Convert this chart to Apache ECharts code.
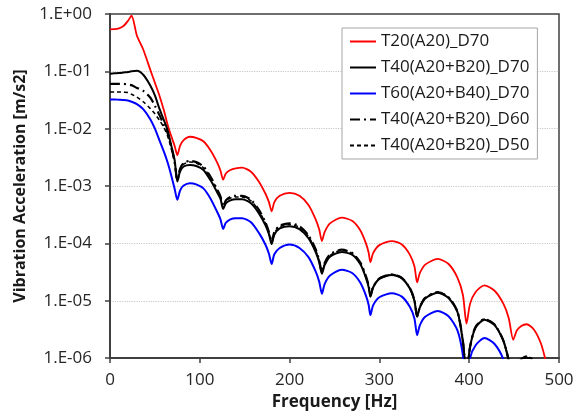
<!DOCTYPE html>
<html>
<head>
<meta charset="utf-8">
<script src="https://cdn.jsdelivr.net/npm/echarts@6/dist/echarts.min.js"></script>
<style>
html,body{margin:0;padding:0;background:#fff;}
#chart{width:588px;height:416px;}
</style>
</head>
<body>
<div id="chart"></div>
<script>
// Frequency grid [Hz]
const freq = [0,5,10,15,20,24,
  30,37,45,50,55,60,64,68,72,
  75,
  78,82,89,96,104,112,119,123,126,
  129,134,140,147,157,166,173,177,180,
  183,189,200,211,221,229,233,236,
  239,245,258,270,279,285,288,290,
  293,300,314,325,334,339,342,
  345,351,365,377,387,393,397,
  401,407,417,428,438,444,449,
  453,458,464,472,480,486];

const seriesNames = ['T20(A20)_D70','T40(A20+B20)_D70','T60(A20+B40)_D70','T40(A20+B20)_D60','T40(A20+B20)_D50'];

// Vibration acceleration [m/s2]
const t20D70 = [0.54,0.543,0.562,0.617,0.759,0.933,
  0.417,0.24,0.105,0.0631,0.038,0.0209,0.012,7.59e-3,5.01e-3,
  3.47e-3,
  5.01e-3,6.31e-3,7.24e-3,6.92e-3,6.03e-3,4.17e-3,2.63e-3,1.86e-3,1.29e-3,
  1.66e-3,1.91e-3,2.04e-3,2.09e-3,1.78e-3,1.18e-3,7.41e-4,5.25e-4,3.63e-4,
  5.25e-4,6.76e-4,7.59e-4,6.76e-4,4.68e-4,2.63e-4,1.74e-4,1.10e-4,
  1.58e-4,2.24e-4,2.82e-4,2.45e-4,1.66e-4,1.0e-4,6.92e-5,4.68e-5,
  6.76e-5,9.33e-5,1.10e-4,9.55e-5,6.31e-5,3.98e-5,2.09e-5,
  3.02e-5,4.27e-5,5.37e-5,4.37e-5,2.51e-5,1.26e-5,3.98e-6,
  8.91e-6,1.41e-5,1.86e-5,1.51e-5,8.91e-6,5.01e-6,2.09e-6,
  3.02e-6,3.63e-6,3.89e-6,3.16e-6,1.78e-6,7.94e-7];

const t40D70 = [9.12e-2,9.23e-2,9.33e-2,9.55e-2,9.77e-2,1.0e-1,
  0.102,8.71e-2,5.62e-2,3.80e-2,2.24e-2,1.41e-2,9.55e-3,5.25e-3,2.82e-3,
  1.20e-3,
  1.78e-3,2.19e-3,2.34e-3,2.24e-3,1.91e-3,1.26e-3,7.94e-4,6.03e-4,3.98e-4,
  5.01e-4,5.62e-4,5.89e-4,5.89e-4,5.01e-4,3.31e-4,2.09e-4,1.45e-4,9.77e-5,
  1.41e-4,1.82e-4,2.0e-4,1.78e-4,1.23e-4,7.08e-5,4.68e-5,2.95e-5,
  4.17e-5,5.89e-5,7.08e-5,6.31e-5,4.27e-5,2.51e-5,1.74e-5,1.18e-5,
  1.70e-5,2.40e-5,2.82e-5,2.45e-5,1.62e-5,1.0e-5,5.25e-6,
  7.59e-6,1.10e-5,1.38e-5,1.12e-5,6.31e-6,1.91e-6,5.01e-7,
  1.58e-6,3.39e-6,4.68e-6,3.80e-6,2.0e-6,8.91e-7,3.16e-7,
  5.01e-7,8.32e-7,1.02e-6,7.94e-7,3.98e-7,1.58e-7];

const t60D70 = [3.24e-2,3.24e-2,3.20e-2,3.16e-2,3.09e-2,2.95e-2,
  2.69e-2,2.19e-2,1.45e-2,1.0e-2,6.31e-3,3.98e-3,2.63e-3,1.58e-3,8.91e-4,
  5.75e-4,
  8.32e-4,1.02e-3,1.12e-3,1.07e-3,9.12e-4,6.03e-4,3.63e-4,2.63e-4,1.78e-4,
  2.29e-4,2.63e-4,2.75e-4,2.75e-4,2.34e-4,1.51e-4,9.55e-5,6.61e-5,4.37e-5,
  6.46e-5,8.32e-5,9.55e-5,8.32e-5,5.75e-5,3.24e-5,2.14e-5,1.32e-5,
  1.95e-5,2.75e-5,3.47e-5,3.02e-5,2.04e-5,1.23e-5,8.51e-6,5.62e-6,
  8.32e-6,1.15e-5,1.35e-5,1.18e-5,7.76e-6,4.90e-6,2.51e-6,
  3.72e-6,5.25e-6,6.61e-6,5.37e-6,3.02e-6,1.12e-6,2.51e-7,
  1.0e-6,1.66e-6,2.24e-6,1.78e-6,9.55e-7,3.98e-7,1.0e-7,
  null,null,null,null,null,null];

const t40D60 = [6.03e-2,6.03e-2,6.03e-2,6.03e-2,5.89e-2,5.75e-2,
  5.13e-2,4.57e-2,3.47e-2,2.51e-2,1.74e-2,1.17e-2,8.51e-3,5.01e-3,2.63e-3,
  1.26e-3,
  2.0e-3,2.51e-3,2.75e-3,2.63e-3,2.19e-3,1.45e-3,8.91e-4,6.61e-4,4.37e-4,
  5.62e-4,6.46e-4,6.76e-4,6.76e-4,5.75e-4,3.80e-4,2.34e-4,1.58e-4,1.05e-4,
  1.58e-4,2.04e-4,2.24e-4,2.0e-4,1.38e-4,7.94e-5,5.01e-5,3.16e-5,
  4.57e-5,6.46e-5,7.76e-5,6.76e-5,4.57e-5,2.69e-5,1.86e-5,1.23e-5,
  1.74e-5,2.45e-5,2.88e-5,2.51e-5,1.66e-5,1.02e-5,5.37e-6,
  7.76e-6,1.12e-5,1.41e-5,1.15e-5,6.46e-6,2.0e-6,5.01e-7,
  1.58e-6,3.47e-6,4.79e-6,3.89e-6,2.04e-6,9.12e-7,3.16e-7,
  6.31e-7,9.55e-7,1.07e-6,8.91e-7,3.98e-7,1.58e-7];

const t40D50 = [4.37e-2,4.37e-2,4.37e-2,4.32e-2,4.27e-2,3.98e-2,
  3.55e-2,2.95e-2,2.24e-2,1.82e-2,1.41e-2,1.05e-2,7.59e-3,4.68e-3,2.51e-3,
  1.26e-3,
  1.91e-3,2.40e-3,2.63e-3,2.51e-3,2.09e-3,1.38e-3,8.51e-4,6.31e-4,4.27e-4,
  5.37e-4,6.17e-4,6.46e-4,6.46e-4,5.50e-4,3.63e-4,2.24e-4,1.51e-4,1.02e-4,
  1.51e-4,1.95e-4,2.14e-4,1.91e-4,1.32e-4,7.59e-5,4.90e-5,3.09e-5,
  4.37e-5,6.17e-5,7.59e-5,6.61e-5,4.47e-5,2.63e-5,1.82e-5,1.20e-5,
  1.74e-5,2.45e-5,2.88e-5,2.51e-5,1.66e-5,1.02e-5,5.37e-6,
  7.76e-6,1.12e-5,1.41e-5,1.15e-5,6.46e-6,2.0e-6,5.01e-7,
  1.58e-6,3.47e-6,4.79e-6,3.89e-6,2.04e-6,9.12e-7,3.16e-7,
  6.31e-7,9.55e-7,1.07e-6,8.91e-7,3.98e-7,1.58e-7];

const xTicks = [0,100,200,300,400,500];
const yMin = 1e-6, yMax = 1;

function pairs(vals){
  return freq.map((f,i)=>[f, vals[i]]).filter(p=>p[1]!==null);
}

const FONT = 'Open Sans';
const chart = echarts.init(document.getElementById('chart'), null, {renderer:'canvas'});

const seriesDefs = [
  {vals:t20D70, color:'#ff0000', width:1.8, type:'solid'},
  {vals:t40D70, color:'#000000', width:2, type:'solid'},
  {vals:t60D70, color:'#0000ff', width:2, type:'solid'},
  {vals:t40D60, color:'#000000', width:2.2, type:[10,4,2,4]},
  {vals:t40D50, color:'#000000', width:1.6, type:[4,3]}
];

chart.setOption({
  animation:false,
  backgroundColor:'#ffffff',
  textStyle:{fontFamily:FONT},
  grid:{left:110, right:29, top:14, bottom:54, show:true, borderColor:'#404040', borderWidth:1.5, backgroundColor:'transparent'},
  legend:{
    orient:'vertical', left:342, top:28,
    padding:[5,8,5,7], itemGap:9, itemWidth:26, itemHeight:14,
    borderColor:'#a6a6a6', borderWidth:1, backgroundColor:'#ffffff',
    itemStyle:{opacity:0},
    textStyle:{fontFamily:FONT, fontSize:17, color:'#1a1a1a'},
    data:seriesNames
  },
  xAxis:{
    type:'value', min:xTicks[0], max:xTicks[xTicks.length-1], interval:100,
    axisLine:{onZero:false, lineStyle:{color:'#404040', width:2}},
    axisTick:{length:5, lineStyle:{color:'#404040', width:1.5}},
    axisLabel:{margin:14, fontSize:17, color:'#262626', fontFamily:FONT},
    splitLine:{show:false},
    name:'Frequency [Hz]', nameLocation:'middle', nameGap:32,
    nameTextStyle:{fontWeight:'bold', fontSize:17, color:'#1a1a1a', fontFamily:FONT}
  },
  yAxis:{
    type:'log', logBase:10, min:yMin, max:yMax,
    axisLine:{show:true, onZero:false, lineStyle:{color:'#404040', width:2}},
    axisTick:{show:true, length:5, lineStyle:{color:'#404040', width:1.5}},
    minorTick:{show:false},
    axisLabel:{margin:18, fontSize:17, color:'#262626', fontFamily:FONT,
      formatter:function(v){
        const e = Math.round(Math.log10(v));
        return '1.E' + (e<0?'-':'+') + String(Math.abs(e)).padStart(2,'0');
      }},
    splitLine:{show:true, showMaxLine:false, showMinLine:false, lineStyle:{color:'#c8c8c8', type:'dotted', width:1.2}},
    name:'Vibration Acceleration [m/s2]', nameLocation:'middle', nameGap:70,
    nameTextStyle:{fontWeight:'bold', fontSize:16, color:'#1a1a1a', fontFamily:FONT}
  },
  series: seriesDefs.map((d,i)=>({
    name:seriesNames[i], type:'line', data:pairs(d.vals),
    symbol:'none', showSymbol:false, clip:true, smooth:0.25,
    lineStyle:{color:d.color, width:d.width, type:d.type},
    itemStyle:{color:d.color},
    z: 2 + i
  }))
});
</script>
</body>
</html>
